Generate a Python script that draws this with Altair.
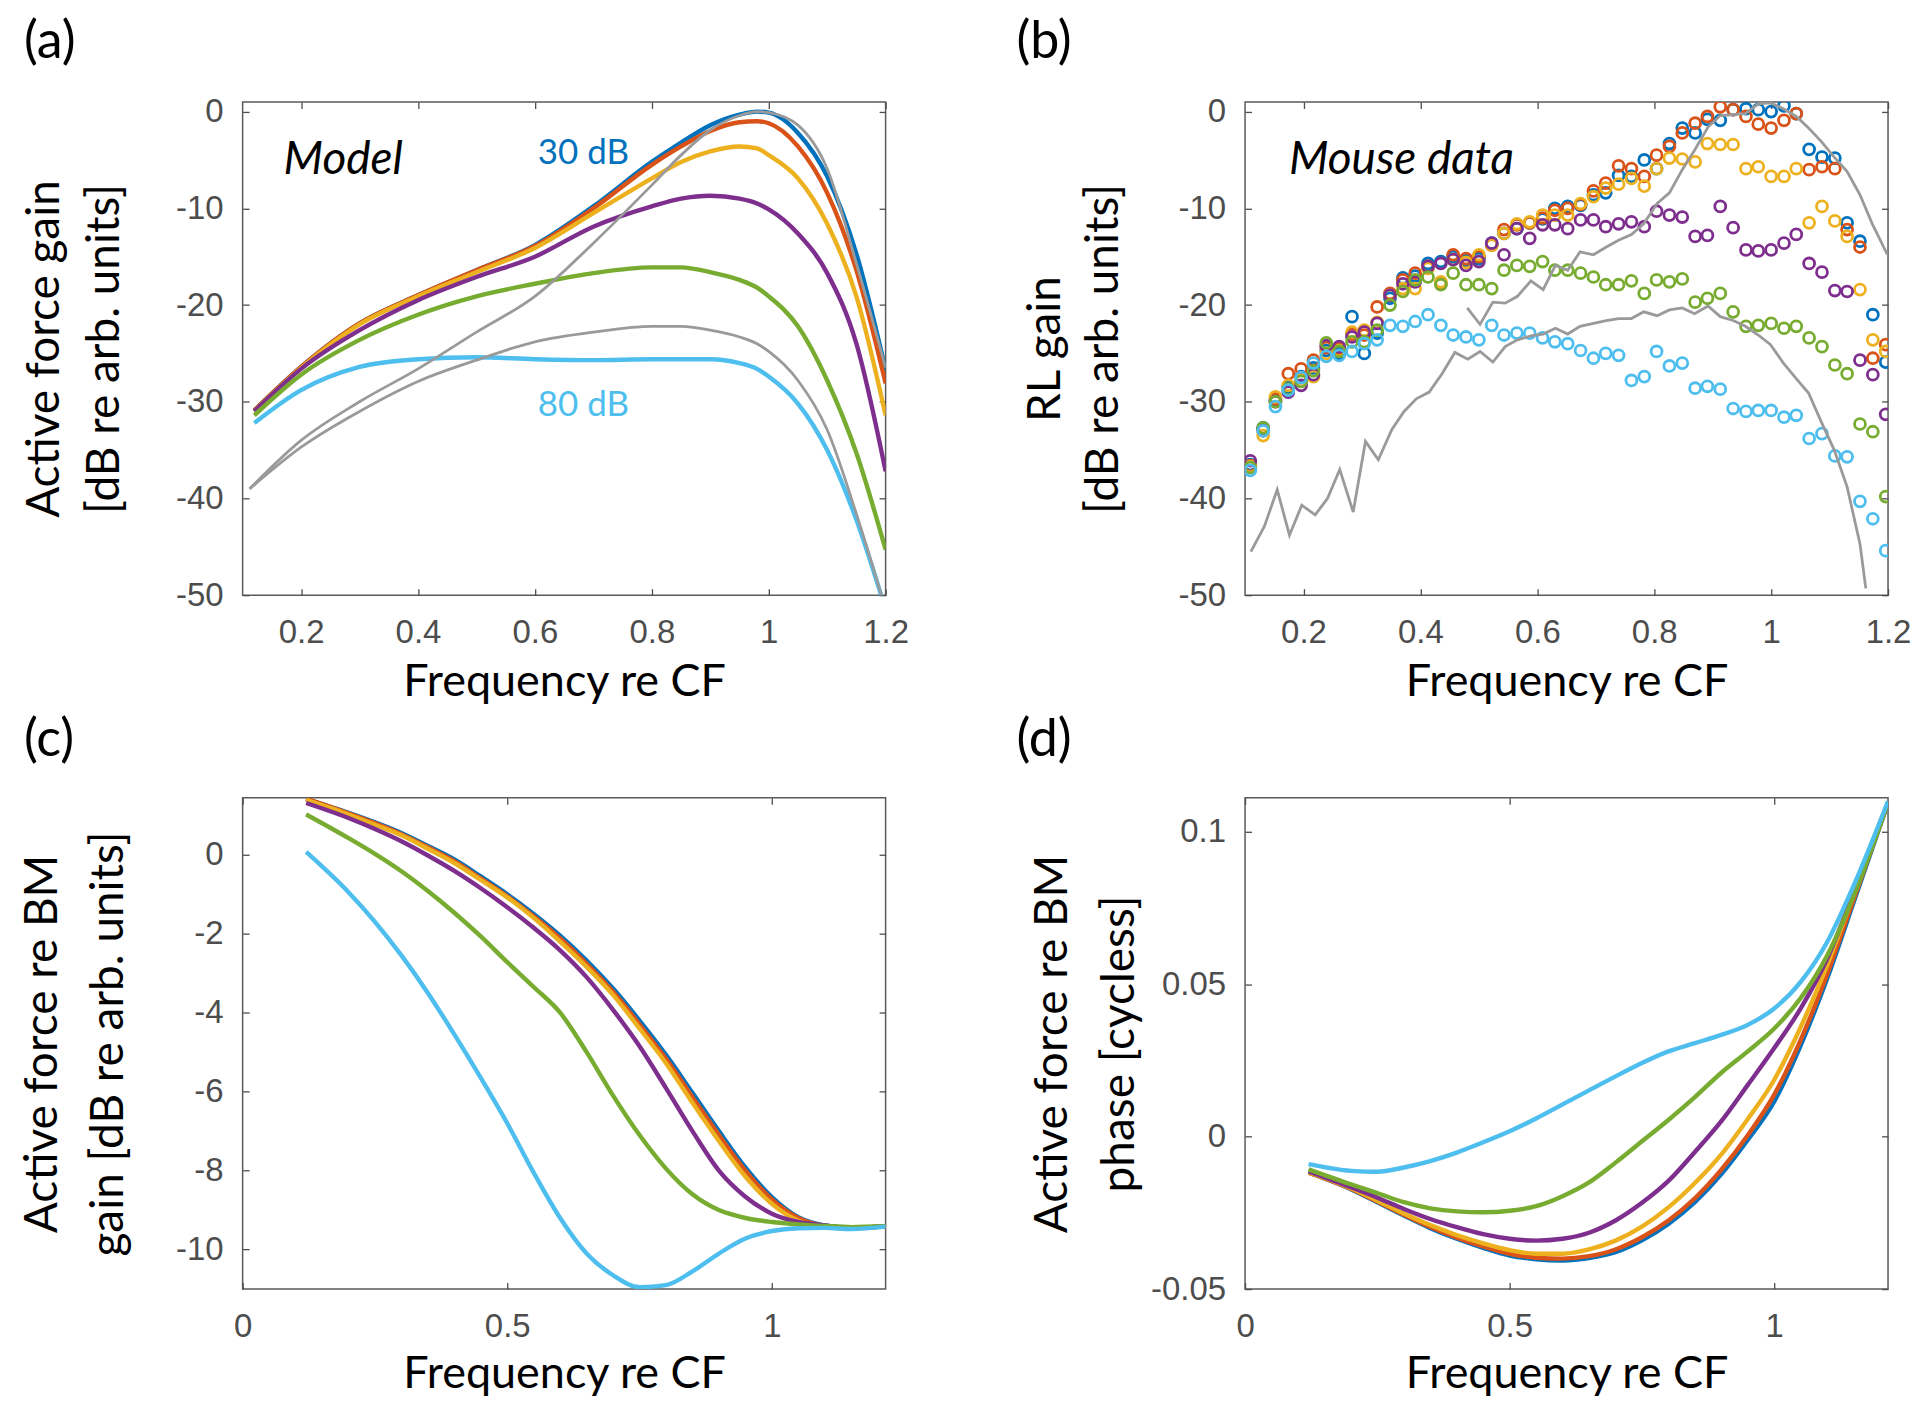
import altair as alt
import pandas as pd

# ------------------------------------------------------------------ data
# Panel (a): model, active force gain [dB]
a_x = [0.12, 0.2, 0.3, 0.4, 0.5, 0.6, 0.7, 0.8, 0.85, 0.9, 0.95, 0.98, 1.0, 1.05, 1.1, 1.15, 1.2]
a_blue = [-30.9, -26.4, -21.9, -19.0, -16.4, -13.8, -9.8, -5.2, -3.2, -1.4, -0.3, 0.0, -0.1, -2.2, -6.7, -14.7, -26.7]
a_orange = [-30.9, -26.4, -21.9, -19.0, -16.4, -13.9, -10.0, -5.5, -3.6, -2.0, -1.1, -1.0, -1.2, -3.6, -8.4, -16.4, -28.1]
a_yellow = [-31.0, -26.5, -22.0, -19.1, -16.6, -14.1, -10.5, -6.9, -5.2, -4.1, -3.6, -3.8, -4.5, -6.9, -11.6, -19.1, -31.4]
a_purple = [-31.0, -26.6, -22.6, -19.5, -17.1, -15.0, -11.9, -9.8, -9.0, -8.7, -9.0, -9.5, -10.1, -12.6, -16.7, -24.0, -37.2]
a_green = [-31.4, -27.2, -23.6, -21.0, -19.1, -17.8, -16.7, -16.1, -16.1, -16.6, -17.4, -18.2, -19.1, -22.2, -27.8, -35.3, -45.3]
a_lblue = [-32.2, -28.8, -26.4, -25.6, -25.4, -25.6, -25.7, -25.6, -25.6, -25.6, -26.0, -26.6, -27.4, -30.2, -35.0, -42.2, -51.5]
a_gx = [0.112, 0.2, 0.3, 0.4, 0.5, 0.6, 0.7, 0.8, 0.85, 0.9, 0.95, 0.98, 1.0, 1.05, 1.1, 1.15, 1.2]
a_gray1 = [-39.0, -34.0, -30.0, -26.6, -22.8, -19.1, -13.6, -7.6, -4.5, -1.9, -0.4, 0.0, -0.1, -1.4, -5.9, -15.7, -26.5]
a_gray2 = [-39.0, -34.7, -31.0, -27.9, -25.7, -23.8, -22.8, -22.2, -22.2, -22.6, -23.3, -24.0, -24.8, -27.8, -32.9, -41.6, -51.5]

# Panel (b): mouse data, RL gain [dB]
b_x = [0.109, 0.131, 0.152, 0.174, 0.196, 0.217, 0.239, 0.261, 0.283, 0.304,
       0.326, 0.348, 0.370, 0.391, 0.413, 0.435, 0.456, 0.478, 0.500, 0.522,
       0.543, 0.565, 0.587, 0.609, 0.630, 0.652, 0.674, 0.696, 0.717, 0.739,
       0.761, 0.783, 0.804, 0.826, 0.848, 0.870, 0.891, 0.913, 0.935, 0.957,
       0.978, 1.000, 1.022, 1.043, 1.065, 1.087, 1.109, 1.130, 1.152, 1.174,
       1.196]
b_blue = [-36.5, -32.7, -29.9, -28.5, -27.4, -26.5, -24.7, -25.0, -21.2, -25.0,
          -22.9, -19.3, -17.2, -17.0, -15.7, -15.5, -15.0, -15.4, -15.2, -13.6,
          -12.6, -12.1, -11.5, -11.1, -10.0, -9.8, -9.7, -8.6, -8.4, -6.6,
          -6.7, -5.0, -5.9, -3.3, -1.7, -2.2, -0.8, -0.9, 0.2, 0.3,
          0.2, 0.0, 0.6, -0.2, -3.9, -4.7, -4.8, -11.5, -13.4, -21.0,
          -25.9]
b_orange = [-36.6, -33.0, -29.7, -27.1, -26.6, -25.7, -24.4, -24.5, -23.0, -23.1,
            -20.2, -18.8, -17.4, -16.7, -16.0, -17.8, -14.8, -15.2, -15.0, -13.8,
            -12.2, -11.7, -11.5, -11.0, -10.2, -10.0, -9.6, -8.2, -7.4, -5.6,
            -5.9, -6.7, -4.5, -3.6, -2.2, -1.2, -0.5, 0.5, 0.2, -0.5,
            -1.3, -1.7, -0.9, -0.2, -6.0, -5.7, -5.9, -12.2, -14.0, -25.5,
            -24.1]
b_yellow = [-36.7, -33.5, -29.5, -28.3, -27.8, -27.4, -25.0, -24.7, -22.8, -22.6,
            -21.8, -19.0, -18.3, -18.3, -16.2, -17.6, -15.3, -15.6, -14.8, -13.8,
            -12.6, -11.6, -11.4, -10.7, -10.7, -10.7, -9.5, -8.8, -7.9, -7.5,
            -6.9, -7.7, -5.9, -4.8, -4.9, -5.2, -3.3, -3.4, -3.4, -5.9,
            -5.7, -6.7, -6.7, -5.9, -11.5, -9.8, -11.3, -12.9, -18.4, -23.6,
            -24.8]
b_purple = [-36.1, -32.8, -30.0, -29.0, -28.3, -27.2, -24.2, -24.3, -23.3, -22.8,
            -21.9, -19.0, -17.8, -17.6, -16.0, -15.7, -15.3, -15.9, -15.5, -13.6,
            -14.8, -12.1, -13.1, -11.7, -11.7, -12.1, -11.2, -11.2, -11.9, -11.6,
            -11.4, -11.9, -10.3, -10.7, -10.9, -12.9, -12.8, -9.8, -12.0, -14.3,
            -14.4, -14.3, -13.6, -12.7, -15.7, -16.6, -18.5, -18.6, -25.7, -27.2,
            -31.3]
b_green = [-36.8, -32.7, -30.0, -28.7, -27.9, -26.8, -23.9, -24.8, -23.8, -23.8,
           -22.6, -20.0, -18.6, -17.4, -17.1, -17.9, -16.7, -17.9, -17.9, -18.3,
           -16.4, -15.9, -16.0, -15.5, -16.4, -16.4, -16.7, -17.1, -17.9, -17.9,
           -17.5, -18.8, -17.4, -17.6, -17.3, -19.7, -19.3, -18.8, -20.7, -22.2,
           -22.1, -21.9, -22.4, -22.2, -23.4, -24.3, -26.2, -27.1, -32.3, -33.1,
           -39.8]
b_lblue = [-37.1, -33.0, -30.5, -28.8, -27.5, -26.0, -25.3, -25.2, -24.8, -24.0,
           -23.6, -22.1, -22.2, -21.7, -21.0, -22.1, -23.1, -23.3, -23.6, -22.1,
           -23.1, -22.9, -22.9, -23.4, -23.8, -24.0, -24.7, -25.5, -25.0, -25.2,
           -27.8, -27.4, -24.8, -26.3, -26.0, -28.6, -28.4, -28.7, -30.7, -31.0,
           -30.9, -30.9, -31.6, -31.4, -33.8, -33.3, -35.6, -35.7, -40.3, -42.1,
           -45.4]
b_grayA_x = [0.110, 0.133, 0.155, 0.176, 0.197, 0.220, 0.241, 0.262, 0.285, 0.306,
             0.328, 0.351, 0.372, 0.393, 0.415, 0.437, 0.459, 0.481, 0.502, 0.524,
             0.545, 0.566, 0.589, 0.610, 0.631, 0.652, 0.673, 0.696, 0.718, 0.739,
             0.761, 0.782, 0.805, 0.826, 0.848, 0.869, 0.892, 0.913, 0.935, 0.956,
             0.978, 0.999, 1.021, 1.043, 1.064, 1.086, 1.108, 1.130, 1.152, 1.162]
b_grayA = [-45.5, -42.9, -39.1, -43.8, -40.7, -41.7, -40.0, -37.0, -41.4, -34.1,
           -36.0, -32.9, -31.0, -29.7, -29.0, -27.1, -24.9, -25.6, -24.8, -25.9,
           -24.3, -23.6, -23.2, -23.0, -22.4, -23.0, -22.2, -21.9, -21.6, -21.4,
           -21.4, -20.7, -21.1, -20.5, -20.3, -20.9, -20.1, -21.2, -21.6, -22.2,
           -23.1, -24.1, -26.0, -27.6, -29.1, -32.1, -35.0, -38.8, -44.7, -49.3]
b_grayB_x = [0.480, 0.502, 0.524, 0.545, 0.566, 0.589, 0.610, 0.631, 0.652, 0.673,
             0.696, 0.718, 0.739, 0.761, 0.782, 0.805, 0.826, 0.848, 0.869, 0.892,
             0.913, 0.935, 0.956, 0.978, 0.999, 1.021, 1.043, 1.064, 1.086, 1.108,
             1.130, 1.152, 1.173, 1.199]
b_grayB = [-20.3, -22.0, -19.7, -19.8, -19.1, -17.5, -18.4, -15.9, -16.4, -14.5,
           -14.8, -14.0, -13.3, -12.7, -11.6, -9.5, -8.4, -6.0, -4.0, -1.6,
           -0.4, -0.3, -0.2, 0.8, 0.9, 0.3, -0.5, -1.7, -3.1, -4.7,
           -6.2, -8.6, -11.6, -14.8]

# Panels (c) and (d): active force re BM, gain [dB] and phase [cycles]
cd_x = [0.12, 0.2, 0.25, 0.3, 0.35, 0.4, 0.45, 0.5, 0.55, 0.6, 0.65,
        0.7, 0.75, 0.8, 0.85, 0.9, 0.95, 1.0, 1.05, 1.1, 1.15, 1.215]
c_blue = [1.41, 1.06, 0.82, 0.55, 0.22, -0.12, -0.55, -1.0, -1.5, -2.05, -2.68,
          -3.39, -4.2, -5.07, -6.03, -7.0, -7.92, -8.67, -9.18, -9.39, -9.45, -9.41]
c_orange = [1.42, 1.05, 0.80, 0.52, 0.19, -0.16, -0.6, -1.05, -1.56, -2.12, -2.76,
            -3.47, -4.3, -5.17, -6.14, -7.1, -8.0, -8.73, -9.2, -9.4, -9.45, -9.41]
c_yellow = [1.39, 1.02, 0.76, 0.49, 0.15, -0.21, -0.64, -1.08, -1.6, -2.2, -2.84,
            -3.55, -4.4, -5.28, -6.28, -7.25, -8.15, -8.84, -9.27, -9.43, -9.46, -9.41]
c_purple = [1.31, 0.93, 0.65, 0.34, -0.02, -0.41, -0.85, -1.33, -1.85, -2.42, -3.1,
            -3.93, -4.85, -5.91, -7.0, -8.0, -8.66, -9.09, -9.3, -9.39, -9.45, -9.41]
c_green = [1.02, 0.42, 0.02, -0.42, -0.92, -1.47, -2.07, -2.72, -3.35, -4.0, -5.0,
           -6.1, -7.1, -7.95, -8.6, -9.0, -9.2, -9.3, -9.36, -9.4, -9.43, -9.41]
c_lblue = [0.07, -0.95, -1.7, -2.55, -3.5, -4.55, -5.65, -6.8, -8.05, -9.2, -10.1,
           -10.65, -10.95, -10.9, -10.55, -10.1, -9.72, -9.53, -9.46, -9.45, -9.48, -9.42]

d_blue = [-0.0118, -0.0172, -0.0215, -0.0259, -0.0300, -0.0335, -0.0365, -0.0390, -0.0402, -0.0406, -0.0398,
          -0.0379, -0.0340, -0.0286, -0.0215, -0.0123, -0.0010, 0.0116, 0.0300, 0.0519, 0.0769, 0.1096]
d_orange = [-0.0118, -0.0171, -0.0213, -0.0256, -0.0296, -0.0331, -0.0360, -0.0384, -0.0397, -0.0400, -0.0392,
            -0.0370, -0.0330, -0.0275, -0.0202, -0.0108, 0.0005, 0.0138, 0.0318, 0.0533, 0.0778, 0.1096]
d_yellow = [-0.0118, -0.0169, -0.0210, -0.0252, -0.0290, -0.0323, -0.0350, -0.0372, -0.0384, -0.0384, -0.0370,
            -0.0341, -0.0295, -0.0232, -0.0152, -0.0058, 0.0058, 0.0187, 0.0360, 0.0563, 0.0795, 0.1096]
d_purple = [-0.0114, -0.0166, -0.0200, -0.0237, -0.0270, -0.0297, -0.0320, -0.0335, -0.0341, -0.0335, -0.0315,
            -0.0275, -0.0217, -0.0145, -0.0050, 0.0051, 0.0170, 0.0291, 0.0421, 0.0584, 0.0800, 0.1096]
d_green = [-0.0107, -0.0156, -0.0185, -0.0215, -0.0235, -0.0245, -0.0248, -0.0243, -0.0228, -0.0195, -0.0150,
           -0.0085, -0.0015, 0.0055, 0.0130, 0.0210, 0.0280, 0.0355, 0.0455, 0.0595, 0.0790, 0.1096]
d_lblue = [-0.0090, -0.0112, -0.0115, -0.0101, -0.0080, -0.0052, -0.0018, 0.0018, 0.0060, 0.0106, 0.0152,
           0.0198, 0.0242, 0.0280, 0.0307, 0.0334, 0.0367, 0.0421, 0.0508, 0.0639, 0.0824, 0.1101]

# axis ticks
ab_xticks = [0.2, 0.4, 0.6, 0.8, 1, 1.2]
ab_yticks = [0, -10, -20, -30, -40, -50]
cd_xticks = [0, 0.5, 1]
c_yticks = [0, -2, -4, -6, -8, -10]
d_yticks = [-0.05, 0, 0.05, 0.1]

# ------------------------------------------------------------------ style
BLUE, ORANGE, YELLOW = "#0072BD", "#D95319", "#EDB120"
PURPLE, GREEN, LBLUE = "#7E2F8E", "#77AC30", "#4DBEEE"
GRAY = "#9A9A9A"
TICK_FONT = "Liberation Sans"
TEXT_FONT = "Lato"
AX_COLOR = "#4d4d4d"
W, H_TOP, H_BOT = 644, 494, 492
TICK = {"expr": "-6.5"}
LW, GW = 4.4, 2.8


def scale(dom):
    return alt.Scale(domain=dom, nice=False, zero=False)


def line(xs, ys, color, width, xsc, ysc, interp="monotone"):
    df = pd.DataFrame({"f": xs, "v": ys})
    return alt.Chart(df).mark_line(
        color=color, strokeWidth=width, interpolate=interp, clip=True
    ).encode(x=alt.X("f:Q", scale=xsc, axis=None), y=alt.Y("v:Q", scale=ysc, axis=None))


def circles(xs, ys, color, xsc, ysc):
    df = pd.DataFrame({"f": xs, "v": ys})
    return alt.Chart(df).mark_point(
        shape="circle", filled=False, color=color, size=120, strokeWidth=2.8, opacity=1, clip=True
    ).encode(x=alt.X("f:Q", scale=xsc, axis=None), y=alt.Y("v:Q", scale=ysc, axis=None))


def axes(xs, ys, xsc, ysc, xticks, yticks, ytitle, tx, lh, h, title_y):
    df = pd.DataFrame({"f": xs, "v": ys})
    xa = alt.Axis(orient="bottom", values=xticks, labelExpr="'' + datum.value",
                  domain=False, grid=False, tickSize=TICK, tickColor=AX_COLOR, tickWidth=1.3,
                  labelFont=TICK_FONT, labelFontSize=33, labelColor=AX_COLOR, labelPadding=28,
                  labelFlush=False, labelOverlap=False,
                  titleFont=TEXT_FONT, titleFontSize=45, titleFontWeight="normal",
                  titleColor="black", titleBaseline="alphabetic", titleY=title_y)
    ya = alt.Axis(orient="left", values=yticks, labelExpr="'' + datum.value",
                  domain=False, grid=False, tickSize=TICK, tickColor=AX_COLOR, tickWidth=1.3,
                  labelFont=TICK_FONT, labelFontSize=33, labelColor=AX_COLOR, labelPadding=26,
                  labelFlush=False, labelOverlap=False,
                  titleFont=TEXT_FONT, titleFontSize=46, titleFontWeight="normal",
                  titleColor="black", titleAngle=270, titleAlign="center",
                  titleBaseline="alphabetic", titleX=tx, titleY=h / 2, titleLineHeight=lh)
    main = alt.Chart(df).mark_line(opacity=0).encode(
        x=alt.X("f:Q", scale=xsc, axis=xa, title="Frequency re CF"),
        y=alt.Y("v:Q", scale=ysc, axis=ya, title=ytitle),
    )
    mx = alt.Axis(orient="top", values=xticks, labels=False, domain=False, grid=False,
                  tickSize=TICK, tickColor=AX_COLOR, tickWidth=1.3)
    my = alt.Axis(orient="right", values=yticks, labels=False, domain=False, grid=False,
                  tickSize=TICK, tickColor=AX_COLOR, tickWidth=1.3)
    mirror = alt.Chart(df).mark_line(opacity=0).encode(
        x=alt.X("f:Q", scale=xsc, axis=mx, title=None),
        y=alt.Y("v:Q", scale=ysc, axis=my, title=None),
    )
    return [main, mirror]


def panel_label(txt, px, py):
    return alt.Chart(pd.DataFrame({"t": [txt]})).mark_text(
        align="left", baseline="alphabetic", font=TEXT_FONT, fontSize=52, color="black"
    ).encode(text="t:N", x=alt.value(px), y=alt.value(py))


def note(txt, xv, yv, color, size, italic, align, xsc, ysc):
    kw = dict(align=align, baseline="alphabetic", font=TEXT_FONT, fontSize=size, color=color)
    if italic:
        kw["fontStyle"] = "italic"
    return alt.Chart(pd.DataFrame({"t": [txt]})).mark_text(**kw).encode(
        text="t:N",
        x=alt.XDatum(xv, scale=xsc, axis=None),
        y=alt.YDatum(yv, scale=ysc, axis=None),
    )


def finish(layers, h):
    return alt.layer(*layers).resolve_scale(x="shared", y="shared").resolve_axis(
        x="independent", y="independent").properties(width=W, height=h)


# ------------------------------------------------------------------ panel a
xa_s, ya_s = scale([0.1, 1.2]), scale([-50, 1])
anchor = alt.Chart(pd.DataFrame({"t": [""]})).mark_point(opacity=0, size=1).encode(
    x=alt.value(-233), y=alt.value(-91))
pa_layers = axes(a_x, a_blue, xa_s, ya_s, ab_xticks, ab_yticks,
                 ["Active force gain", "[dB re arb. units]"], -184, 60, H_TOP, 100)
for ys, col in [(a_blue, BLUE), (a_orange, ORANGE), (a_yellow, YELLOW),
                (a_purple, PURPLE), (a_green, GREEN), (a_lblue, LBLUE)]:
    pa_layers.append(line(a_x, ys, col, LW, xa_s, ya_s))
pa_layers.append(line(a_gx, a_gray1, GRAY, GW, xa_s, ya_s))
pa_layers.append(line(a_gx, a_gray2, GRAY, GW, xa_s, ya_s))
pa_layers.append(note("Model", 0.17, -6.5, "black", 46, True, "left", xa_s, ya_s))
pa_layers.append(note("30 dB", 0.683, -5.4, BLUE, 35, False, "center", xa_s, ya_s))
pa_layers.append(note("80 dB", 0.683, -31.5, LBLUE, 35, False, "center", xa_s, ya_s))
pa_layers.append(panel_label("(a)", -219, -44))
pa_layers.append(anchor)
pa = finish(pa_layers, H_TOP)

# ------------------------------------------------------------------ panel b
xb_s, yb_s = scale([0.1, 1.2]), scale([-50, 1])
pb_layers = axes(b_x, b_blue, xb_s, yb_s, ab_xticks, ab_yticks,
                 ["RL gain", "[dB re arb. units]"], -186, 58, H_TOP, 100)
for ys, col in [(b_blue, BLUE), (b_orange, ORANGE), (b_yellow, YELLOW),
                (b_purple, PURPLE), (b_green, GREEN), (b_lblue, LBLUE)]:
    pb_layers.append(circles(b_x, ys, col, xb_s, yb_s))
pb_layers.append(line(b_grayA_x, b_grayA, GRAY, GW, xb_s, yb_s, "linear"))
pb_layers.append(line(b_grayB_x, b_grayB, GRAY, GW, xb_s, yb_s, "linear"))
pb_layers.append(note("Mouse data", 0.175, -6.5, "black", 46, True, "left", xb_s, yb_s))
pb_layers.append(panel_label("(b)", -229, -44))
pb = finish(pb_layers, H_TOP)

# ------------------------------------------------------------------ panel c
xc_s, yc_s = scale([0, 1.215]), scale([-11, 1.44])
pc_layers = axes(cd_x, c_blue, xc_s, yc_s, cd_xticks, c_yticks,
                 ["Active force re BM", "gain [dB re arb. units]"], -186, 66, H_BOT, 99)
for ys, col in [(c_blue, BLUE), (c_orange, ORANGE), (c_yellow, YELLOW),
                (c_purple, PURPLE), (c_green, GREEN), (c_lblue, LBLUE)]:
    pc_layers.append(line(cd_x, ys, col, LW, xc_s, yc_s))
pc_layers.append(panel_label("(c)", -219, -42))
pc = finish(pc_layers, H_BOT)

# ------------------------------------------------------------------ panel d
xd_s, yd_s = scale([0, 1.215]), scale([-0.05, 0.1112])
pd_layers = axes(cd_x, d_blue, xd_s, yd_s, cd_xticks, d_yticks,
                 ["Active force re BM", "phase [cycless]"], -179, 67, H_BOT, 99)
for ys, col in [(d_blue, BLUE), (d_orange, ORANGE), (d_yellow, YELLOW),
                (d_purple, PURPLE), (d_green, GREEN), (d_lblue, LBLUE)]:
    pd_layers.append(line(cd_x, ys, col, LW, xd_s, yd_s))
pd_layers.append(panel_label("(d)", -229, -42))
pdd = finish(pd_layers, H_BOT)

chart = alt.concat(
    pa, pb, pc, pdd, columns=2, bounds="flush",
    spacing=alt.RowColnumber(row=203, column=360),
).properties(padding=0, background="white").configure_view(
    stroke="#5a5a5a", strokeWidth=1.5
)

chart.save("out.html", embed_options={"renderer": "svg", "actions": False})
